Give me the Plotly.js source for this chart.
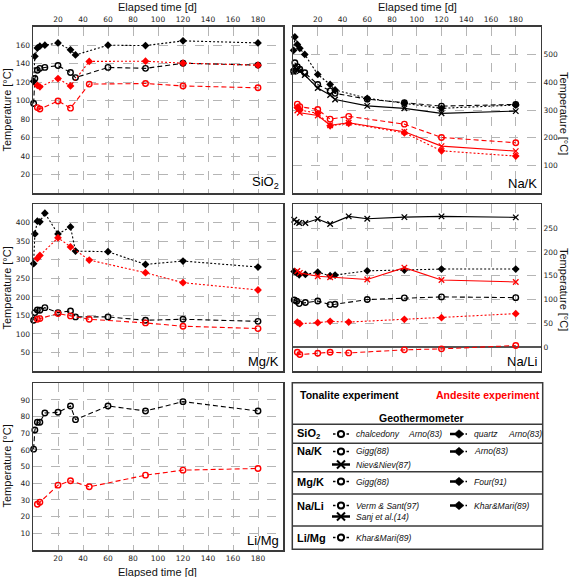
<!DOCTYPE html>
<html>
<head>
<meta charset="utf-8">
<script src="https://cdn.plot.ly/plotly-3.0.1.min.js"></script>
<style>html,body{margin:0;padding:0;background:#fff;}#chart{width:572px;height:577px;}</style>
</head>
<body>
<div id="chart"></div>
<script>
// ---------- DATA ----------
const xTickVals = [20, 40, 60, 80, 100, 120, 140, 160, 180];
const tBlack = [0.5, 1.5, 3.5, 5.5, 9.5, 20, 30, 34, 60, 90, 120, 180];
const tRed = [3.5, 5.5, 20, 30, 45, 90, 120, 180];
const tBlackNaLi = [1, 3, 5, 10, 20, 30, 34, 60, 90, 120, 180];
const tBlackNaLiSanj = [1, 3, 5, 10, 20, 30, 45, 60, 90, 120, 180];
const tRedNaLiSanj = [3.5, 5.5, 20, 30, 60, 90, 120, 180];

// SiO2
const sio2ChalcTon = [97, 124, 133, 135, 136, 138, 130.5, 125, 136, 135, 140.5, 138.5];
const sio2QuartzTon = [121, 148, 157, 159, 160, 162.5, 155, 149.5, 160, 159.6, 164.7, 162.5];
const sio2ChalcAnd = [92.6, 91, 99.8, 92, 118, 118.6, 116, 114];
const sio2QuartzAnd = [116.5, 115, 124, 116, 142.5, 142.7, 140.6, 138.4];
// Na/K
const nakGiggTon = [440, 470, 456, 447, 434, 392, 369, 360, 339, 326, 314, 320];
const nakArnoTon = [515, 563, 536, 522, 500, 428, 392, 372, 342, 324, 306, 318];
const nakNievTon = [438, 452, 446, 440, 426, 379, 354, 338, 315, 306, 288, 296];
const nakGiggAnd = [321, 312, 302, 267, 277, 249, 201, 182];
const nakArnoAnd = [309, 300, 288, 243, 252, 218, 153, 134];
const nakNievAnd = [298, 290, 280, 245, 254, 222, 170, 152];
// Mg/K
const mgkGiggTon = [137, 157.6, 164.8, 164, 171, 157.6, 162, 146, 146, 137, 139.7, 134];
const mgkFourTon = [289.6, 370, 404.5, 402.7, 426, 370, 389, 323.7, 322, 287.8, 296.8, 280.6];
const mgkGiggAnd = [139.7, 141.5, 155, 148.7, 139.7, 129.8, 120.8, 114.5];
const mgkFourAnd = [304, 312, 359.6, 335, 299.5, 265.4, 238.4, 218.7];
// Na/Li
const nliVermTon = [99, 96.5, 91.5, 93.7, 97, 89.4, 90, 100, 103.5, 105.6, 104];
const nliKharTon = [159, 156, 152, 152.8, 157.5, 150, 151.4, 160.4, 162, 164, 164];
const nliSanjTon = [267.6, 262.7, 260.6, 260.6, 269, 258.5, 274.6, 269.7, 273, 274.6, 272.5];
const nliVermAnd = [-10.6, -15.5, -12.7, -10.6, -12, -5.6, -3.5, 3.5];
const nliKharAnd = [52.8, 49.3, 51.4, 54.2, 52.8, 58.5, 62, 70.4];
const nliSanjAnd = [160, 156, 149, 147, 142, 167, 141, 137];
// Li/Mg
const limgKharTon = [60.5, 72, 76.6, 76.6, 82.2, 82.6, 86.4, 78.2, 86.4, 83.4, 89, 83.4];
const limgKharAnd = [27.4, 28.6, 38.9, 41.5, 37.9, 44.9, 47.9, 48.9];

// ---------- STYLE ----------
const BLACK = '#000000', RED = '#ff0000';
const styles = {
  circ: {symbol: 'circle-open', size: 5.5, lw: 1.4, dash: '5px,3px'},
  dia:  {symbol: 'diamond', size: 6, lw: 0, dash: '2px,2px'},
  xx:   {symbol: 'x-thin-open', size: 5.5, lw: 1.3, dash: 'solid'}
};
function tr(x, y, xa, ya, color, kind) {
  const s = styles[kind];
  return {
    x: x, y: y, xaxis: xa, yaxis: ya, type: 'scatter', mode: 'lines+markers',
    cliponaxis: false, showlegend: false, hoverinfo: 'skip',
    line: {color: color, width: 1.1, dash: s.dash},
    marker: {symbol: s.symbol, size: s.size, color: color, line: {color: color, width: s.lw}}
  };
}
const data = [
  tr(tBlack, sio2ChalcTon, 'x', 'y', BLACK, 'circ'),
  tr(tBlack, sio2QuartzTon, 'x', 'y', BLACK, 'dia'),
  tr(tRed, sio2ChalcAnd, 'x', 'y', RED, 'circ'),
  tr(tRed, sio2QuartzAnd, 'x', 'y', RED, 'dia'),

  tr(tBlack, nakGiggTon, 'x2', 'y2', BLACK, 'circ'),
  tr(tBlack, nakArnoTon, 'x2', 'y2', BLACK, 'dia'),
  tr(tBlack, nakNievTon, 'x2', 'y2', BLACK, 'xx'),
  tr(tRed, nakGiggAnd, 'x2', 'y2', RED, 'circ'),
  tr(tRed, nakArnoAnd, 'x2', 'y2', RED, 'dia'),
  tr(tRed, nakNievAnd, 'x2', 'y2', RED, 'xx'),

  tr(tBlack, mgkGiggTon, 'x3', 'y3', BLACK, 'circ'),
  tr(tBlack, mgkFourTon, 'x3', 'y3', BLACK, 'dia'),
  tr(tRed, mgkGiggAnd, 'x3', 'y3', RED, 'circ'),
  tr(tRed, mgkFourAnd, 'x3', 'y3', RED, 'dia'),

  tr(tBlackNaLi, nliVermTon, 'x4', 'y4', BLACK, 'circ'),
  tr(tBlackNaLi, nliKharTon, 'x4', 'y4', BLACK, 'dia'),
  tr(tBlackNaLiSanj, nliSanjTon, 'x4', 'y4', BLACK, 'xx'),
  tr(tRed, nliVermAnd, 'x4', 'y4', RED, 'circ'),
  tr(tRed, nliKharAnd, 'x4', 'y4', RED, 'dia'),
  tr(tRedNaLiSanj, nliSanjAnd, 'x4', 'y4', RED, 'xx'),

  tr(tBlack, limgKharTon, 'x5', 'y5', BLACK, 'circ'),
  tr(tRed, limgKharAnd, 'x5', 'y5', RED, 'circ')
];

// ---------- LAYOUT ----------
const W = 572, H = 577;
const X = v => v / W;
const Y = v => 1 - v / H;
const colL = [X(33), X(283)];
const colR = [X(293), X(540.5)];
const row1 = [Y(193.3), Y(26.7)];
const row2 = [Y(371), Y(204.3)];
const row3 = [Y(550), Y(383.3)];
const TICKFONT = {family: 'DejaVu Sans, sans-serif', size: 7.5, color: '#222'};
const base = {
  showgrid: true, gridcolor: '#b5b5b5', griddash: 'dash', gridwidth: 1,
  zeroline: false, showline: true, mirror: true, linecolor: '#3a3a3a', linewidth: 1.5,
  ticks: '', ticklen: 0, tickfont: TICKFONT, fixedrange: true
};
function ax(extra) { return Object.assign({}, base, extra); }
function range(a, b, s) { const r = []; for (let v = a; v <= b + 1e-9; v += s) r.push(v); return r; }

const layout = {
  width: W, height: H, margin: {l: 0, r: 0, t: 0, b: 0},
  paper_bgcolor: '#fff', plot_bgcolor: '#fff', showlegend: false,
  xaxis:  ax({domain: colL, anchor: 'y',  range: [0, 200], tickvals: xTickVals, side: 'top'}),
  xaxis2: ax({domain: colR, anchor: 'y2', range: [0, 200], tickvals: xTickVals, side: 'top'}),
  xaxis3: ax({domain: colL, anchor: 'y3', range: [0, 200], tickvals: xTickVals, showticklabels: false}),
  xaxis4: ax({domain: colR, anchor: 'y4', range: [0, 200], tickvals: xTickVals, showticklabels: false}),
  xaxis5: ax({domain: colL, anchor: 'y5', range: [0, 200], tickvals: xTickVals, side: 'bottom'}),
  yaxis:  ax({domain: row1, anchor: 'x',  range: [0, 180], tickvals: range(20, 160, 20)}),
  yaxis2: ax({domain: row1, anchor: 'x2', range: [0, 600], tickvals: range(100, 500, 100), side: 'right'}),
  yaxis3: ax({domain: row2, anchor: 'x3', range: [0, 450], tickvals: range(50, 400, 50)}),
  yaxis4: ax({domain: row2, anchor: 'x4', range: [-50, 300], tickvals: range(0, 250, 50), side: 'right',
              zeroline: true, zerolinecolor: '#555', zerolinewidth: 1.5}),
  yaxis5: ax({domain: row3, anchor: 'x5', range: [0, 100], tickvals: range(10, 90, 10)}),
  shapes: [],
  annotations: []
};

const TITLEFONT = {family: 'Liberation Sans, Arial, sans-serif', size: 11, color: '#111'};
function ann(text, x, y, opts) {
  layout.annotations.push(Object.assign({
    text: text, x: X(x), y: Y(y), xref: 'paper', yref: 'paper', showarrow: false,
    xanchor: 'center', yanchor: 'middle', font: TITLEFONT
  }, opts || {}));
}
// axis titles
ann('Elapsed time [d]', 158, 6.5);
ann('Elapsed time [d]', 417, 6.5);
ann('Elapsed time [d]', 158, 571.5);
ann('Temperature [°C]', 6.5, 110, {textangle: -90});
ann('Temperature [°C]', 6.5, 288, {textangle: -90});
ann('Temperature [°C]', 6.5, 466, {textangle: -90});
ann('Temperature [°C]', 564, 113, {textangle: 90});
ann('Temperature [°C]', 564, 289, {textangle: 90});
// panel labels
const PANELFONT = {family: 'Liberation Sans, Arial, sans-serif', size: 13, color: '#000'};
ann('SiO<sub>2</sub>', 281, 193, {xanchor: 'right', yanchor: 'bottom', font: PANELFONT});
ann('Na/K', 539, 193, {xanchor: 'right', yanchor: 'bottom', font: PANELFONT});
ann('Mg/K', 281, 371, {xanchor: 'right', yanchor: 'bottom', font: PANELFONT});
ann('Na/Li', 539, 371, {xanchor: 'right', yanchor: 'bottom', font: PANELFONT});
ann('Li/Mg', 281, 550, {xanchor: 'right', yanchor: 'bottom', font: PANELFONT});

// ---------- LEGEND TABLE ----------
function line(x0, y0, x1, y1, color, w) {
  layout.shapes.push({type: 'line', xref: 'paper', yref: 'paper', x0: X(x0), y0: Y(y0), x1: X(x1), y1: Y(y1),
    line: {color: color, width: w}});
}
function pathShape(pts, fill) {
  const d = 'M ' + pts.map(p => X(p[0]) + ',' + Y(p[1])).join(' L ') + ' Z';
  layout.shapes.push({type: 'path', xref: 'paper', yref: 'paper', path: d, fillcolor: fill, line: {color: fill, width: 0.5}});
}
layout.shapes.push({type: 'rect', xref: 'paper', yref: 'paper', x0: X(292.3), x1: X(542.7), y0: Y(549.3), y1: Y(382.7),
  line: {color: '#3a3a3a', width: 1.5}, fillcolor: 'rgba(0,0,0,0)'});
[424.3, 443.3, 471.7, 494, 526].forEach(y => line(292.3, y, 542.7, y, '#3a3a3a', 1.5));

function circGlyph(cx, cy) {
  line(cx - 8, cy, cx - 5.5, cy, '#000', 1.5);
  line(cx + 5.5, cy, cx + 8, cy, '#000', 1.5);
  layout.shapes.push({type: 'circle', xref: 'paper', yref: 'paper', x0: X(cx - 3.1), x1: X(cx + 3.1), y0: Y(cy + 3.1), y1: Y(cy - 3.1),
    line: {color: '#000', width: 2}, fillcolor: 'rgba(0,0,0,0)'});
}
function diaGlyph(cx, cy) {
  line(cx - 9, cy, cx - 4, cy, '#000', 2.5);
  pathShape([[cx - 5, cy], [cx, cy - 4.2], [cx + 5, cy], [cx, cy + 4.2]], '#000');
  line(cx + 6.5, cy, cx + 8, cy, '#000', 1.5);
}
function xGlyph(cx, cy) {
  line(cx - 9, cy, cx + 9, cy, '#000', 2.5);
  line(cx - 4, cy - 4, cx + 4, cy + 4, '#000', 2);
  line(cx - 4, cy + 4, cx + 4, cy - 4, '#000', 2);
}
const HEADFONT = {family: 'Liberation Sans, Arial, sans-serif', size: 10.5, color: '#000'};
const ROWFONT = {family: 'Liberation Sans, Arial, sans-serif', size: 11, color: '#000'};
const ITFONT = {family: 'Liberation Sans, Arial, sans-serif', size: 8.5, color: '#111'};
ann('<b>Tonalite experiment</b>', 349, 395, {font: HEADFONT});
ann('<b>Andesite experiment</b>', 488, 395, {font: Object.assign({}, HEADFONT, {color: RED})});
ann('<b>Geothermometer</b>', 421.5, 418, {font: HEADFONT});
const rowLabels = [['<b>SiO<sub>2</sub></b>', 434], ['<b>Na/K</b>', 451.5], ['<b>Mg/K</b>', 481.5], ['<b>Na/Li</b>', 505.5], ['<b>Li/Mg</b>', 537.5]];
rowLabels.forEach(r => ann(r[0], 295, r[1], {xanchor: 'left', font: ROWFONT}));
function it(t, x, y) { ann('<i>' + t + '</i>', x, y, {xanchor: 'left', font: ITFONT}); }
// SiO2
circGlyph(341, 434); it('chalcedony', 354, 434); it('Arno(83)', 405.5, 434);
diaGlyph(459, 434); it('quartz', 472, 434); it('Arno(83)', 506, 434);
// Na/K
circGlyph(341, 451.5); it('Gigg(88)', 354, 451.5);
diaGlyph(459, 451.5); it('Arno(83)', 472, 451.5);
xGlyph(341, 464.5); it('Niev&amp;Niev(87)', 354, 464.5);
// Mg/K
circGlyph(341, 481.5); it('Gigg(88)', 354, 481.5);
diaGlyph(459, 481.5); it('Four(91)', 472, 481.5);
// Na/Li
circGlyph(341, 505.5); it('Verm &amp; Sant(97)', 354, 505.5);
diaGlyph(459, 505.5); it('Khar&amp;Mari(89)', 472, 505.5);
xGlyph(341, 516.5); it('Sanj et al.(14)', 354, 516.5);
// Li/Mg
circGlyph(341, 537.5); it('Khar&amp;Mari(89)', 354, 537.5);

Plotly.newPlot('chart', data, layout, {staticPlot: true, displayModeBar: false});
</script>
</body>
</html>
